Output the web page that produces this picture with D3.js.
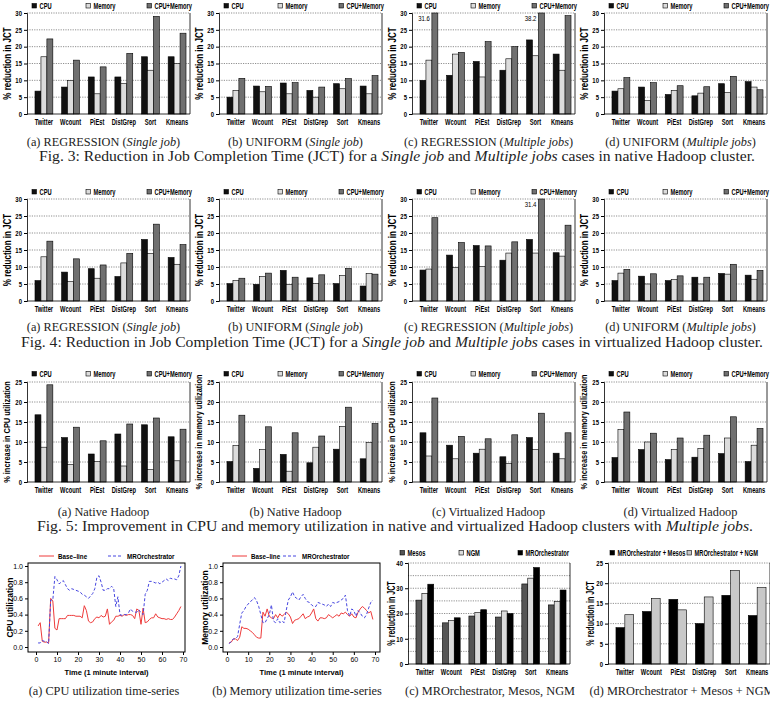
<!DOCTYPE html>
<html>
<head>
<meta charset="utf-8">
<script src="https://cdn.jsdelivr.net/npm/d3@7"></script>
<style>
  body { margin: 0; background: #fff; }
  svg { display: block; }
</style>
</head>
<body>
<div id="fig"></div>
<script>
// ---- data ----
const jobs = ["Twitter", "Wcount", "PiEst", "DistGrep", "Sort", "Kmeans"];
const resLegend = ["CPU", "Memory", "CPU+Memory"];

// Fig 3: native Hadoop, % reduction in JCT  [cpu, memory, cpu+memory]
const fig3a = [[6.8, 8, 11, 11, 17, 17], [17, 10, 6, 9, 13, 15], [22.3, 16, 14, 18, 29, 24]];
const fig3b = [[5, 8.3, 9.2, 7, 9, 8.3], [7, 6.6, 6, 5, 7.5, 6], [10.6, 8.2, 9.3, 8, 10.5, 11.4]];
const fig3c = [[10, 11.5, 15.6, 13, 22, 17.8], [16, 17.8, 11, 16.4, 17.3, 13], [31.6, 18.3, 21.5, 20, 38.2, 29.2]];
const fig3d = [[6.8, 8, 5.8, 5.4, 9, 9.6], [7.5, 4, 7, 6.2, 6.4, 8], [10.8, 9.3, 8.4, 8.1, 11.2, 7.2]];

// Fig 4: virtualized Hadoop, % reduction in JCT
const fig4a = [[6, 8.5, 9.5, 7.2, 18.1, 12.8], [13, 5.7, 6.7, 11.2, 14, 10.8], [17.6, 12.4, 10.6, 14, 22.6, 16.6]];
const fig4b = [[5.1, 4.9, 9, 6.8, 5.1, 4.4], [6, 7.2, 4.9, 5.1, 7.5, 8.1], [6.7, 8.2, 7, 7.7, 9.6, 7.9]];
const fig4c = [[9.1, 13.5, 16.3, 12, 18.1, 14.2], [9.4, 9.8, 10.2, 14.1, 14.1, 13.2], [24.5, 17.2, 16.2, 17.4, 31.4, 22.3]];
const fig4d = [[6, 7.3, 6, 7, 8.1, 7.6], [8.2, 5, 6.3, 5, 7.9, 6.4], [9.3, 8, 7.4, 7, 10.8, 9]];

// Fig 5: % increase in utilization
const fig5a = [[16.8, 11.1, 7, 12, 14.3, 11.3], [8.7, 4.4, 5.1, 4, 3.1, 5.3], [24.3, 13.7, 10.3, 14.5, 16, 13.2]];
const fig5b = [[5.1, 3.4, 6.9, 4.8, 8.2, 5.8], [9.1, 8.1, 2.7, 8.7, 13.9, 9.9], [16.7, 13.8, 12.3, 11.5, 18.7, 14.6]];
const fig5c = [[12.3, 9.2, 7.2, 6.3, 11.1, 7.2], [6.5, 5.8, 8.2, 4.6, 8.1, 5.8], [21, 11.4, 10.8, 11.8, 17.2, 12.3]];
const fig5d = [[6.1, 8.1, 5.6, 6.2, 7.1, 5.1], [13.1, 10, 8.1, 8.4, 11, 9.2], [17.5, 12.2, 11, 11.7, 16.3, 13.4]];

// Fig 6c / 6d
const schedLegend = ["Mesos", "NGM", "MROrchestrator"];
const fig6c = [[25.3, 16.3, 19, 18.6, 31.7, 23.4], [28, 17.2, 20.4, 21, 34, 24.8], [31.6, 18.3, 21.5, 20, 38.2, 29.3]];
const comboLegend = ["MROrchestrator + Mesos", "MROrchestrator + NGM"];
const fig6d = [[9, 13, 16, 10, 17, 12], [12.2, 16.2, 13.4, 16.6, 23.1, 18.9]];

// Fig 6a / 6b time series (1 minute interval)
const minutes = [1, 2, 3, 4, 5, 6, 7, 8, 9, 10, 11, 12, 13, 14, 15, 16, 17, 18, 19, 20, 21, 22, 23,
  24, 25, 26, 27, 28, 29, 30, 31, 32, 33, 34, 35, 36, 37, 38, 39, 40, 41, 42, 43, 44, 45, 46,
  47, 48, 49, 50, 51, 52, 53, 54, 55, 56, 57, 58, 59, 60, 61, 62, 63, 64, 65, 66, 67, 68, 69];
const cpuBase = [0.26, 0.3, 0.07, 0.06, 0.06, 0.05, 0.6, 0.57, 0.23, 0.21, 0.35, 0.35, 0.35, 0.35, 0.39,
  0.39, 0.39, 0.39, 0.38, 0.38, 0.38, 0.36, 0.51, 0.45, 0.32, 0.3, 0.31, 0.35, 0.37, 0.36, 0.39, 0.37,
  0.38, 0.47, 0.28, 0.31, 0.33, 0.38, 0.38, 0.39, 0.38, 0.4, 0.39, 0.4, 0.4, 0.39, 0.35, 0.47, 0.45,
  0.28, 0.48, 0.3, 0.31, 0.34, 0.36, 0.36, 0.41, 0.37, 0.36, 0.35, 0.35, 0.34, 0.35, 0.34, 0.34, 0.37,
  0.41, 0.45, 0.5];
const cpuMRO = [0.05, 0.05, 0.08, 0.07, 0.07, 0.04, 0.58, 0.58, 0.87, 0.83, 0.78, 0.8, 0.82, 0.77, 0.72,
  0.7, 0.72, 0.71, 0.7, 0.69, 0.68, 0.65, 0.64, 0.62, 0.6, 0.63, 0.66, 0.72, 0.86, 0.88, 0.8, 0.7, 0.7,
  0.72, 0.72, 0.75, 0.72, 0.5, 0.62, 0.4, 0.39, 0.4, 0.4, 0.42, 0.47, 0.44, 0.43, 0.43, 0.46, 0.42, 0.4,
  0.65, 0.7, 0.81, 0.81, 0.8, 0.79, 0.8, 0.78, 0.8, 0.82, 0.84, 0.82, 0.85, 0.84, 0.84, 0.83, 0.88, 1.0];
const memBase = [0.05, 0.06, 0.1, 0.1, 0.08, 0.12, 0.25, 0.23, 0.23, 0.22, 0.2, 0.18, 0.15, 0.12, 0.11,
  0.11, 0.43, 0.38, 0.47, 0.38, 0.36, 0.35, 0.4, 0.36, 0.41, 0.38, 0.4, 0.43, 0.41, 0.37, 0.29, 0.33,
  0.34, 0.35, 0.38, 0.41, 0.35, 0.37, 0.38, 0.42, 0.47, 0.35, 0.32, 0.36, 0.36, 0.35, 0.36, 0.4, 0.38,
  0.36, 0.38, 0.4, 0.38, 0.42, 0.41, 0.43, 0.4, 0.38, 0.41, 0.37, 0.36, 0.43, 0.47, 0.5, 0.48, 0.45,
  0.42, 0.44, 0.34];
const memMRO = [0.04, 0.07, 0.1, 0.1, 0.13, 0.28, 0.42, 0.45, 0.5, 0.53, 0.56, 0.58, 0.61, 0.57, 0.5,
  0.4, 0.3, 0.3, 0.35, 0.4, 0.52, 0.32, 0.3, 0.35, 0.3, 0.32, 0.3, 0.45, 0.58, 0.62, 0.68, 0.62, 0.6,
  0.58, 0.62, 0.65, 0.6, 0.56, 0.55, 0.52, 0.5, 0.5, 0.55, 0.54, 0.53, 0.52, 0.5, 0.53, 0.5, 0.55, 0.54,
  0.55, 0.56, 0.58, 0.6, 0.64, 0.45, 0.38, 0.47, 0.45, 0.38, 0.45, 0.42, 0.38, 0.36, 0.4, 0.48, 0.55, 0.58];
const lineLegend = ["Base\u2013line", "MROrchestrator"];

// ---- drawing ----
const W = 770, H = 704;
const sans = "'Liberation Sans', Arial, sans-serif";
const serif = "'Liberation Serif', 'Times New Roman', serif";
const fills3 = ["#111111", "#dcdcdc", "#707070"];

const svg = d3.select("#fig").append("svg")
  .attr("width", W).attr("height", H)
  .style("font-family", sans);

// the original uses a condensed bold sans; squeeze the wide fallback to match
function squeeze(sel, k) {
  sel.each(function () {
    const w = this.getComputedTextLength();
    d3.select(this).attr("textLength", w * k).attr("lengthAdjust", "spacingAndGlyphs");
  });
}

const lefts = [27, 219, 412, 604];
const pw = 163;

function barChart(o) {
  const g = svg.append("g").attr("transform", `translate(${o.left},0)`);
  const y = d3.scaleLinear().domain([0, o.max]).range([o.bottom, o.top]);
  const x0 = d3.scaleBand().domain(jobs).range([4, o.width]).paddingInner(0.33).paddingOuter(0.15);
  const x1 = d3.scaleBand().domain(d3.range(o.series.length)).range([0, x0.bandwidth()]);

  // dotted grid
  g.selectAll(".grid").data(d3.range(o.grid, o.max + 0.001, o.grid)).join("line")
    .attr("x1", 0).attr("x2", o.width)
    .attr("y1", d => y(d)).attr("y2", d => y(d))
    .attr("stroke", "#444").attr("stroke-width", 0.6).attr("stroke-dasharray", "1.2,1.2");

  o.series.forEach((vals, s) => {
    g.selectAll(null).data(vals).join("rect")
      .attr("x", (d, i) => x0(jobs[i]) + x1(s))
      .attr("width", x1.bandwidth())
      .attr("y", d => y(Math.min(d, o.max)))
      .attr("height", d => o.bottom - y(Math.min(d, o.max)))
      .attr("fill", o.fills[s]).attr("stroke", "#000").attr("stroke-width", 0.6);
    // values above the axis limit get a number next to the bar
    const cut = g.selectAll(null).data(vals.map((d, i) => [d, i]).filter(p => p[0] > o.max)).join("text")
      .attr("x", p => x0(jobs[p[1]]) + x1(s) - 2)
      .attr("y", o.top + 7.5)
      .attr("text-anchor", "end").attr("font-size", 7.5)
      .text(p => p[0]);
    squeeze(cut, 0.8);
  });

  // axes
  const ya = g.append("g").call(d3.axisLeft(y).tickValues(o.ticks).tickSize(3).tickPadding(2));
  ya.select(".domain").attr("stroke-width", 0.8);
  ya.selectAll("text").attr("font-size", 7).attr("font-weight", "bold");
  squeeze(ya.selectAll("text"), 0.85);
  const xa = g.append("g").attr("transform", `translate(0,${o.bottom})`)
    .call(d3.axisBottom(x0).tickSize(0).tickPadding(5.5));
  xa.select(".domain").attr("d", `M0,0H${o.width}`).attr("stroke-width", 0.8);
  xa.selectAll("text").attr("font-size", 8.3).attr("font-weight", "bold");
  squeeze(xa.selectAll("text"), 0.69);
  g.append("line").attr("x1", o.width).attr("x2", o.width).attr("y1", o.top).attr("y2", o.bottom)
    .attr("stroke", "#000").attr("stroke-width", 0.8);

  // y title
  const t = g.append("text")
    .attr("transform", `translate(${o.titleX},${(o.top + o.bottom) / 2}) rotate(-90)`)
    .attr("text-anchor", "middle").attr("dy", "0.35em")
    .attr("font-size", o.titleSize).attr("font-weight", "bold")
    .text(o.yTitle);
  squeeze(t, o.titleSq);

  // legend
  o.legend.forEach((name, i) => {
    const lx = o.legendX[i];
    g.append("rect").attr("x", lx).attr("y", o.legendY - 2.5).attr("width", 4.5).attr("height", 4.5)
      .attr("fill", o.fills[i]).attr("stroke", "#000").attr("stroke-width", 0.6);
    const lt = g.append("text").attr("x", lx + 7.5).attr("y", o.legendY).attr("dy", "0.35em")
      .attr("font-size", 8.3).attr("font-weight", "bold").text(name);
    squeeze(lt, 0.69);
  });
}

function lineChart(o) {
  const g = svg.append("g");
  const x = d3.scaleLinear().domain([0, 70]).range([o.x0, o.x70]);
  const y = d3.scaleLinear().domain([0, 1]).range([647, 566]);

  g.append("rect").attr("x", o.boxL).attr("y", 563).attr("width", o.boxR - o.boxL).attr("height", 89)
    .attr("fill", "none").attr("stroke", "#000").attr("stroke-width", 1);

  const ya = g.append("g").attr("transform", `translate(${o.boxL},0)`)
    .call(d3.axisLeft(y).tickValues([0, 0.2, 0.4, 0.6, 0.8, 1]).tickFormat(d3.format(".1f")).tickSize(3).tickPadding(2));
  ya.select(".domain").remove();
  ya.selectAll("text").attr("font-size", 7);
  const xa = g.append("g").attr("transform", "translate(0,652)")
    .call(d3.axisBottom(x).tickValues([0, 10, 20, 30, 40, 50, 60, 70]).tickSize(3).tickPadding(2));
  xa.select(".domain").remove();
  xa.selectAll("text").attr("font-size", 7);

  const line = d3.line().x((d, i) => x(minutes[i])).y(d => y(d));
  g.append("path").datum(o.base).attr("d", line)
    .attr("fill", "none").attr("stroke", "#ee3b3b").attr("stroke-width", 1);
  g.append("path").datum(o.mro).attr("d", line)
    .attr("fill", "none").attr("stroke", "#4646e0").attr("stroke-width", 1).attr("stroke-dasharray", "3,2");

  g.append("text")
    .attr("transform", `translate(${o.titleX},${(563 + 652) / 2}) rotate(-90)`)
    .attr("text-anchor", "middle").attr("dy", "0.35em")
    .attr("font-size", 8.5).attr("font-weight", "bold").text(o.yTitle);
  g.append("text").attr("x", (o.boxL + o.boxR) / 2).attr("y", 675)
    .attr("text-anchor", "middle")
    .attr("font-size", 7.5).attr("font-weight", "bold").text("Time (1 minute interval)");

  // legend
  const styles = [{ c: "#ee3b3b", d: null }, { c: "#4646e0", d: "3,2" }];
  lineLegend.forEach((name, i) => {
    const lx = o.legendX[i];
    g.append("line").attr("x1", lx).attr("x2", lx + 15).attr("y1", 556).attr("y2", 556)
      .attr("stroke", styles[i].c).attr("stroke-width", 1).attr("stroke-dasharray", styles[i].d);
    const lt = g.append("text").attr("x", lx + 19).attr("y", 556).attr("dy", "0.35em")
      .attr("font-size", 8).attr("font-weight", "bold").text(name);
    squeeze(lt, 0.78);
  });
}

// captions
function subCaption(cx, yb, parts) {
  const t = svg.append("text").attr("x", cx).attr("y", yb).attr("text-anchor", "middle")
    .attr("font-family", serif).attr("font-size", 12.3).attr("fill", "#222");
  parts.forEach(p => t.append("tspan").attr("font-style", p[1] ? "italic" : null).text(p[0]));
}
function figCaption(cx, yb, parts, len) {
  const t = svg.append("text").attr("x", cx).attr("y", yb).attr("text-anchor", "middle")
    .attr("font-family", serif).attr("font-size", 14).attr("fill", "#222")
    .attr("textLength", len).attr("lengthAdjust", "spacingAndGlyphs");
  parts.forEach(p => t.append("tspan").attr("font-style", p[1] ? "italic" : null).text(p[0]));
}

const resLegendX = [5, 59, 120];
const rows = [
  { top: 13, bottom: 114, legendY: 6, max: 30, data: [fig3a, fig3b, fig3c, fig3d], title: "% reduction in JCT", size: 10.5, sq: 0.76 },
  { top: 199, bottom: 301, legendY: 192, max: 30, data: [fig4a, fig4b, fig4c, fig4d], title: "% reduction in JCT", size: 10.5, sq: 0.76 },
  { top: 382, bottom: 482, legendY: 374, max: 25, data: [fig5a, fig5b, fig5c, fig5d], title: null, size: 9.5, sq: 0.78 }
];
const util = ["% increase in CPU utilization", "% increase in memory utilization"];

rows.forEach(r => {
  r.data.forEach((d, p) => {
    barChart({
      left: lefts[p], width: pw, top: r.top, bottom: r.bottom, max: r.max,
      ticks: d3.range(0, r.max + 1, 5), grid: 5, series: d, fills: fills3,
      legend: resLegend, legendX: resLegendX, legendY: r.legendY,
      yTitle: r.title || util[p % 2], titleSize: r.size, titleSq: r.sq, titleX: -20
    });
  });
});

barChart({
  left: 408, width: 162, top: 563, bottom: 664, max: 40, ticks: [0, 10, 20, 30, 40], grid: 5,
  series: fig6c, fills: ["#555555", "#dcdcdc", "#000000"], legend: schedLegend, legendX: [-8, 51, 110],
  legendY: 553, yTitle: "% reduction in JCT", titleSize: 10, titleSq: 0.71, titleX: -17
});
barChart({
  left: 608, width: 162, top: 563, bottom: 664, max: 25, ticks: [0, 5, 10, 15, 20, 25], grid: 5,
  series: fig6d, fills: ["#000000", "#c8c8c8"], legend: comboLegend, legendX: [2, 79],
  legendY: 553, yTitle: "% reduction in JCT", titleSize: 10, titleSq: 0.71, titleX: -18
});

lineChart({ boxL: 28, boxR: 185, x0: 36, x70: 183, base: cpuBase, mro: cpuMRO,
  yTitle: "CPU utilization", titleX: 10, legendX: [39, 108] });
lineChart({ boxL: 223, boxR: 380, x0: 227, x70: 375, base: memBase, mro: memMRO,
  yTitle: "Memory utilization", titleX: 205, legendX: [232, 283] });

const capX = lefts.map(l => l + pw / 2 - 5);
subCaption(capX[0], 146, [["(a) REGRESSION ("], ["Single job", 1], [")"]]);
subCaption(capX[1], 146, [["(b) UNIFORM ("], ["Single job", 1], [")"]]);
subCaption(capX[2], 146, [["(c) REGRESSION ("], ["Multiple jobs", 1], [")"]]);
subCaption(capX[3], 146, [["(d) UNIFORM ("], ["Multiple jobs", 1], [")"]]);
figCaption(397, 161, [["Fig. 3: Reduction in Job Completion Time (JCT) for a "], ["Single job", 1], [" and "],
  ["Multiple jobs", 1], [" cases in native Hadoop cluster."]], 716);

subCaption(capX[0], 331, [["(a) REGRESSION ("], ["Single job", 1], [")"]]);
subCaption(capX[1], 331, [["(b) UNIFORM ("], ["Single job", 1], [")"]]);
subCaption(capX[2], 331, [["(c) REGRESSION ("], ["Multiple jobs", 1], [")"]]);
subCaption(capX[3], 331, [["(d) UNIFORM ("], ["Multiple jobs", 1], [")"]]);
figCaption(392, 347, [["Fig. 4: Reduction in Job Completion Time (JCT) for a "], ["Single job", 1], [" and "],
  ["Multiple jobs", 1], [" cases in virtualized Hadoop cluster."]], 742);

subCaption(capX[0], 516, [["(a) Native Hadoop"]]);
subCaption(capX[1], 516, [["(b) Native Hadoop"]]);
subCaption(capX[2], 516, [["(c) Virtualized Hadoop"]]);
subCaption(capX[3], 516, [["(d) Virtualized Hadoop"]]);
figCaption(395, 531, [["Fig. 5: Improvement in CPU and memory utilization in native and virtualized Hadoop clusters with "],
  ["Multiple jobs", 1], ["."]], 716);

subCaption(104, 695, [["(a) CPU utilization time-series"]]);
subCaption(297, 695, [["(b) Memory utilization time-series"]]);
subCaption(490, 695, [["(c) MROrchestrator, Mesos, NGM"]]);
subCaption(682, 695, [["(d) MROrchestrator + Mesos + NGM"]]);
</script>
</body>
</html>
